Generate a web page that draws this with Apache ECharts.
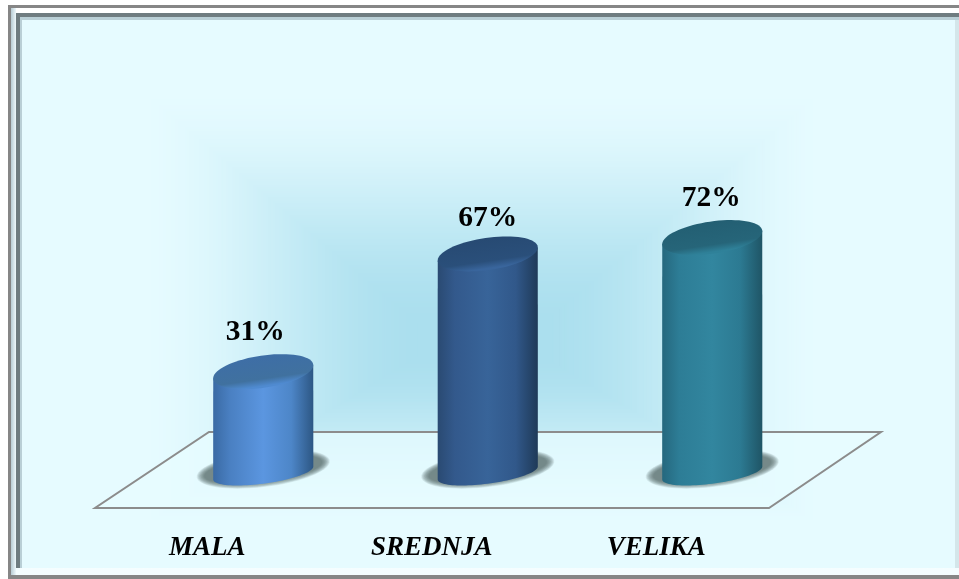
<!DOCTYPE html>
<html><head><meta charset="utf-8">
<style>html,body{margin:0;padding:0;background:#fff}#c{width:959px;height:579px}</style>
<script src="https://cdn.jsdelivr.net/npm/echarts@6/dist/echarts.min.js"></script>
</head><body><div id="c"></div>
<script>
const categories = ['MALA', 'SREDNJA', 'VELIKA'];
const percentValues = [31, 67, 72];
const bodyStyles = [
  ['#3a6aa4', '#4a80c2', '#5b96e0', '#4d86c8', '#2d5784'],
  ['#2a4a72', '#33598c', '#386499', '#31588a', '#1f3a58'],
  ['#25687e', '#2d7d96', '#32869f', '#2c7a92', '#1f5566']
];
const capStyles = [
  ['#3e6ea6', '#40719f', '#4f8ad0'],
  ['#274a73', '#2a4f7a', '#39659c'],
  ['#235f73', '#266579', '#2f8199']
];
const labelOffsets = [[-8, -39.5], [0, -36], [-1, -39.5]];

const chart = echarts.init(document.getElementById('c'), null, {renderer: 'canvas'});

// soft rectangular glow behind the chart: opaque nested rects, outer light to centre blue
const glow = [];
const LAYERS = 120;
const glowOuter = [230, 251, 255], glowInner = [171, 223, 238];
for (let i = 0; i < LAYERS; i++) {
  const f = i / LAYERS;
  const x0 = 135 + (420 - 135) * f, x1 = 830 - (830 - 540) * f;
  const y0 = 85 + (325 - 85) * f, y1 = 530 - (530 - 355) * f;
  const p = f * f * (3 - 2 * f);
  const col = glowOuter.map((c, k) => Math.round(c + (glowInner[k] - c) * p));
  glow.push({type: 'rect', z: 0, silent: true,
    shape: {x: x0, y: y0, width: x1 - x0, height: y1 - y0},
    style: {fill: 'rgb(' + col.join(',') + ')'}});
}

const graphicEls = [
  {type: 'rect', z: 0, silent: true, shape: {x: 0, y: 0, width: 959, height: 579}, style: {fill: '#ffffff'}},
  {type: 'rect', z: 0, silent: true, shape: {x: 8, y: 5, width: 951, height: 574}, style: {fill: '#868686'}},
  {type: 'rect', z: 0, silent: true, shape: {x: 11, y: 8, width: 948, height: 567},
    style: {fill: {type: 'linear', x: 0, y: 0, x2: 0, y2: 1, colorStops: [{offset: 0, color: '#ffffff'}, {offset: 1, color: '#f4fdff'}]}}},
  {type: 'rect', z: 0, silent: true, shape: {x: 11, y: 8, width: 5, height: 567},
    style: {fill: {type: 'linear', x: 0, y: 0, x2: 1, y2: 0, colorStops: [{offset: 0, color: '#b8ccd4'}, {offset: 1, color: '#eef8fb'}]}}},
  {type: 'rect', z: 0, silent: true, shape: {x: 16, y: 13, width: 943, height: 555}, style: {fill: '#6f7c80'}},
  {type: 'rect', z: 0, silent: true, shape: {x: 20, y: 17, width: 939, height: 551}, style: {fill: '#b9cfd6'}},
  {type: 'rect', z: 0, silent: true, shape: {x: 22, y: 20, width: 933, height: 548}, style: {fill: '#e6fbff'}},
  {type: 'rect', z: 0, silent: true, shape: {x: 955, y: 20, width: 4, height: 548}, style: {fill: '#d4e6ea'}}
].concat(glow, [
  {type: 'polygon', z: 1, silent: true,
    shape: {points: [[95, 508], [769, 508], [881, 432], [209, 432]]},
    style: {fill: 'rgba(232,252,255,0.72)', stroke: '#8c8c8c', lineWidth: 2}}
]);

function ellipsePoint(cx, cy, a, b, th, t) {
  return [cx + a * Math.cos(t) * Math.cos(th) + b * Math.sin(t) * Math.sin(th),
          cy - a * Math.cos(t) * Math.sin(th) + b * Math.sin(t) * Math.cos(th)];
}
function ring(cx, cy, a, b, th) {
  const pts = [];
  for (let k = 0; k < 72; k++) pts.push(ellipsePoint(cx, cy, a, b, th, k / 72 * 2 * Math.PI));
  return pts;
}
function stops(arr, pos) {
  return arr.map((c, i) => ({offset: pos[i], color: c}));
}

function renderItem(params, api) {
  const i = params.dataIndex;
  const base = api.coord([api.value(0), 0]);
  const top = api.coord([api.value(0), api.value(1)]);
  const hw = api.size([1, 0])[0] * 0.2227;      // half width from the band size
  const a = hw * 1.01, b = hw * 0.322, th = 8.25 * Math.PI / 180;
  const t0 = Math.atan(b * Math.tan(th) / a);
  const ab = hw * 1.01, bb = hw * 0.212, thb = 7.75 * Math.PI / 180;
  const t0b = Math.atan(bb * Math.tan(thb) / ab);

  const body = [];
  const N = 48;
  for (let k = 0; k <= N; k++) body.push(ellipsePoint(base[0], base[1], ab, bb, thb, t0b + Math.PI * k / N));
  body.push(ellipsePoint(top[0], top[1], a, b, th, t0 + Math.PI), ellipsePoint(top[0], top[1], a, b, th, t0));

  const cap = capStyles[i];
  const children = [];
  for (let s = 0; s < 12; s++) {
    const g = 1.34 - s * 0.014;
    children.push({type: 'polygon', shape: {points: ring(base[0], base[1] - 4, hw * g, hw * (0.36 - s * 0.01), 7 * Math.PI / 180)},
      style: {fill: 'rgba(80,95,102,0.1)'}});
  }
  children.push(
    {type: 'polygon', shape: {points: body},
      style: {fill: {type: 'linear', x: 0, y: 0, x2: 1, y2: 0,
        colorStops: stops(bodyStyles[i], [0, 0.17, 0.5, 0.78, 1])}}},
    {type: 'polygon', shape: {points: ring(top[0], top[1], a, b, th)},
      style: {fill: {type: 'linear', x: 0.477, y: 0.05, x2: 0.523, y2: 0.95,
        colorStops: [{offset: 0, color: cap[0]}, {offset: 0.72, color: cap[1]}, {offset: 0.95, color: cap[2]}, {offset: 1, color: cap[2]}]}}},
    {type: 'text', x: top[0] + labelOffsets[i][0], y: top[1] + labelOffsets[i][1],
      style: {text: api.value(1) + '%', x: 0, y: 0, align: 'center', verticalAlign: 'middle',
        font: 'bold 29.5px "Liberation Serif"', fill: '#000'}}
  );
  return {type: 'group', children};
}

chart.setOption({
  animation: false,
  backgroundColor: '#ffffff',
  graphic: {elements: graphicEls},
  grid: {left: 151, width: 673.5, top: 146, height: 327},
  xAxis: {type: 'category', data: categories,
    axisLine: {show: false}, axisTick: {show: false}, splitLine: {show: false},
    axisLabel: {margin: 62, padding: [0, 112, 0, 0], interval: 0,
      fontFamily: 'Liberation Serif', fontWeight: 'bold', fontStyle: 'italic', fontSize: 27, color: '#000'}},
  yAxis: {type: 'value', min: 0, max: 100, show: false, splitLine: {show: false}},
  series: [{type: 'custom', renderItem, clip: false, data: categories.map((c, i) => [i, percentValues[i]]), encode: {x: 0, y: 1}}]
});
</script></body></html>
